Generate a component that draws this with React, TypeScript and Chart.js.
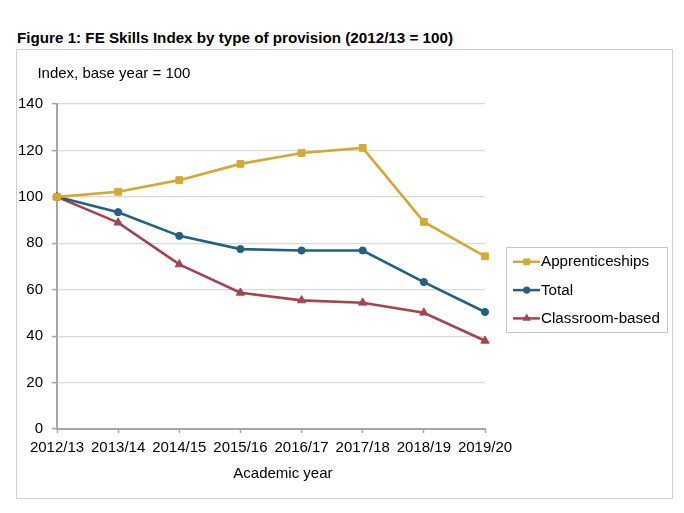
import React, { useEffect, useRef } from 'react';
import { Chart, registerables } from 'chart.js';

Chart.register(...registerables);

const chartTitle = 'Figure 1: FE Skills Index by type of provision (2012/13 = 100)';
const yAxisCaption = 'Index, base year = 100';
const xAxisCaption = 'Academic year';

const years = ['2012/13', '2013/14', '2014/15', '2015/16', '2016/17', '2017/18', '2018/19', '2019/20'];
const seriesNames = ['Apprenticeships', 'Total', 'Classroom-based'];
const apprenticeships = [100, 102.2, 107.2, 114.2, 118.9, 121.1, 89.2, 74.4];
const total = [100, 93.4, 83.2, 77.5, 76.9, 76.9, 63.3, 50.4];
const classroom = [100, 88.9, 70.9, 58.7, 55.4, 54.4, 50.1, 38.0];
const yMin = 0;
const yMax = 140;
const yStep = 20;

const seriesColors = ['#D3A934', '#24617F', '#A5434F'];
const seriesMarkers = ['rect', 'circle', 'triangle'];
const seriesRadius = [4.8, 3.6, 4.8];

const FONT = '"Liberation Sans", Arial, Helvetica, sans-serif';

function drawMarker(ctx: CanvasRenderingContext2D, style: string, x: number, y: number, r: number) {
  ctx.beginPath();
  if (style === 'rect') {
    const s = Math.SQRT1_2 * r;
    ctx.rect(x - s, y - s, 2 * s, 2 * s);
  } else if (style === 'circle') {
    ctx.arc(x, y, r, 0, Math.PI * 2);
  } else {
    let rad = 0;
    ctx.moveTo(x + Math.sin(rad) * r, y - Math.cos(rad) * r);
    rad += (2 * Math.PI) / 3;
    ctx.lineTo(x + Math.sin(rad) * r, y - Math.cos(rad) * r);
    rad += (2 * Math.PI) / 3;
    ctx.lineTo(x + Math.sin(rad) * r, y - Math.cos(rad) * r);
    ctx.closePath();
  }
  ctx.fill();
}

const decorPlugin = {
  id: 'decor',
  afterDraw(chart: any) {
    const ctx: CanvasRenderingContext2D = chart.ctx;
    const area = chart.chartArea;
    ctx.save();
    // y caption
    ctx.fillStyle = '#000';
    ctx.font = `15px ${FONT}`;
    ctx.textBaseline = 'middle';
    ctx.textAlign = 'left';
    ctx.fillText(yAxisCaption, 20.4, 23.5);
    // x caption
    ctx.fillText(xAxisCaption, 216.3, 424);

    // legend box
    const lx = area.right + 21;
    const ly = 197;
    const lw = 161;
    const lh = 85;
    ctx.strokeStyle = '#c6c6c6';
    ctx.lineWidth = 1;
    ctx.strokeRect(lx + 0.5, ly + 0.5, lw, lh);
    chart.data.datasets.forEach((ds: any, i: number) => {
      const y = ly + 14.8 + i * 28.3;
      ctx.strokeStyle = ds.borderColor;
      ctx.lineWidth = 2.5;
      ctx.beginPath();
      ctx.moveTo(lx + 7, y);
      ctx.lineTo(lx + 34, y);
      ctx.stroke();
      ctx.fillStyle = ds.borderColor;
      drawMarker(ctx, ds.pointStyle, lx + 20.7, y, ds.pointRadius);
      ctx.fillStyle = '#000';
      ctx.font = `15.2px ${FONT}`;
      ctx.textBaseline = 'middle';
      ctx.fillText(ds.label, lx + 35, y + 0.5);
    });
    ctx.restore();
  },
};

export default function App() {
  const ref = useRef<HTMLCanvasElement | null>(null);

  useEffect(() => {
    if (!ref.current) return;
    const seriesData = [apprenticeships, total, classroom];
    const chart = new Chart(ref.current, {
      type: 'line',
      data: {
        labels: years,
        datasets: seriesNames.map((name, i) => ({
          label: name,
          data: seriesData[i],
          borderColor: seriesColors[i],
          backgroundColor: seriesColors[i],
          pointBackgroundColor: seriesColors[i],
          pointBorderColor: seriesColors[i],
          pointBorderWidth: 1,
          pointStyle: seriesMarkers[i] as any,
          pointRadius: seriesRadius[i],
          borderWidth: 2.6,
          tension: 0,
          clip: false as any,
        })),
      },
      options: {
        responsive: false,
        animation: false,
        devicePixelRatio: 1,
        layout: { padding: { left: 0, top: 54, right: 187, bottom: 0 } },
        plugins: {
          legend: { display: false },
          title: { display: false },
          tooltip: { enabled: false },
        },
        scales: {
          x: {
            offset: false,
            grid: {
              display: true,
              drawOnChartArea: false,
              drawTicks: true,
              tickLength: 4,
              tickColor: '#a6a6a6',
              tickWidth: 1.5,
            },
            border: { display: true, color: '#a6a6a6', width: 2 },
            ticks: {
              color: '#000',
              font: { family: FONT, size: 15 },
              padding: 6,
              maxRotation: 0,
              autoSkip: false,
            },
            afterFit: (scale: any) => {
              scale.height = 69;
            },
          },
          y: {
            min: yMin,
            max: yMax,
            grid: {
              color: '#d9d9d9',
              lineWidth: 1.2,
              drawTicks: true,
              tickLength: 5,
              tickColor: '#a6a6a6',
              tickWidth: 1.5,
            },
            border: { display: true, color: '#a6a6a6', width: 2 },
            ticks: {
              stepSize: yStep,
              color: '#000',
              font: { family: FONT, size: 15 },
              padding: 9,
            },
            afterFit: (scale: any) => {
              scale.width = 40;
            },
          },
        },
      },
      plugins: [decorPlugin],
    });
    return () => chart.destroy();
  }, []);

  return (
    <div style={{ position: 'absolute', left: 0, top: 0, width: 684, height: 513, background: '#fff' }}>
      <div
        style={{
          position: 'absolute',
          left: 17,
          top: 28,
          fontFamily: FONT,
          fontWeight: 'bold',
          fontSize: '15.2px',
          lineHeight: '20px',
          color: '#000',
          whiteSpace: 'nowrap',
        }}
      >
        {chartTitle}
      </div>
      <div
        style={{
          position: 'absolute',
          left: 16,
          top: 49,
          width: 657,
          height: 450,
          boxSizing: 'border-box',
          border: '1px solid #d0d0d0',
        }}
      >
        <canvas ref={ref} width={655} height={448} style={{ display: 'block', width: 655, height: 448 }} />
      </div>
    </div>
  );
}
